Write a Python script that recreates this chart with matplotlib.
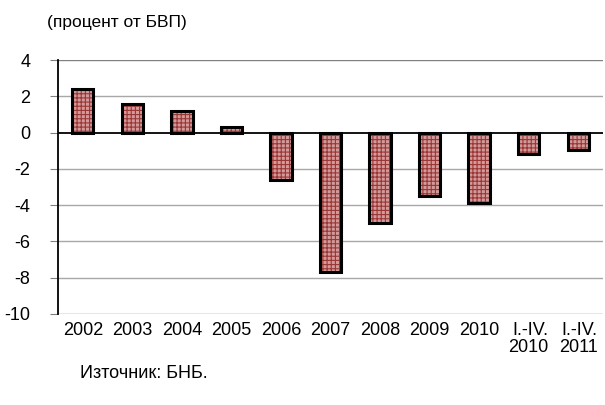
import matplotlib
matplotlib.use("Agg")
import matplotlib.pyplot as plt
import numpy as np

plt.rcParams['font.family'] = ['Liberation Sans', 'DejaVu Sans']
plt.rcParams['hatch.linewidth'] = 0.8

categories = ["2002", "2003", "2004", "2005", "2006", "2007", "2008", "2009", "2010",
              "I.-IV.\n2010", "I.-IV.\n2011"]
values = [2.4, 1.6, 1.2, 0.3, -2.6, -7.7, -5.0, -3.5, -3.9, -1.2, -0.95]
yticks = [4, 2, 0, -2, -4, -6, -8, -10]

fig = plt.figure(figsize=(6.05, 4.05), dpi=100)
ax = fig.add_axes([58/605, 1-314/405, 545/605, 254/405])

x = np.arange(len(categories))
ax.bar(x, values, width=0.43, color='#d49a9a', hatch='++++', edgecolor='#9a3636', linewidth=0, zorder=3)
ax.bar(x, values, width=0.43, fill=False, edgecolor='black', linewidth=2.2, zorder=4)

ax.set_xlim(-0.5, len(categories)-0.5)
ax.set_ylim(-10, 4)
ax.set_yticks(yticks)
ax.set_yticklabels([str(v) for v in yticks], fontsize=13)
for v in yticks:
    if v == 0:
        continue
    c = '#808080' if v in (4, -10) else '#a8a8a8'
    ax.axhline(v, color=c, lw=1, zorder=1)
ax.axhline(0, color='black', lw=1.3, zorder=5)

for s in ['top', 'right', 'bottom']:
    ax.spines[s].set_visible(False)
ax.spines['left'].set_color('black')
ax.spines['left'].set_linewidth(1.3)
ax.tick_params(axis='y', length=6, color='#808080', pad=14)
ax.set_xticks(x)
ax.set_xticklabels(categories, fontsize=13, linespacing=1.0, multialignment='right')
ax.tick_params(axis='x', length=0, pad=6)

fig.text(47/605, 1-23/405, "(процент от БВП)", fontsize=12.5, va='center', ha='left')
fig.text(80/605, 1-373/405, "Източник: БНБ.", fontsize=13, va='center', ha='left')

fig.savefig("out.png", dpi=100)
